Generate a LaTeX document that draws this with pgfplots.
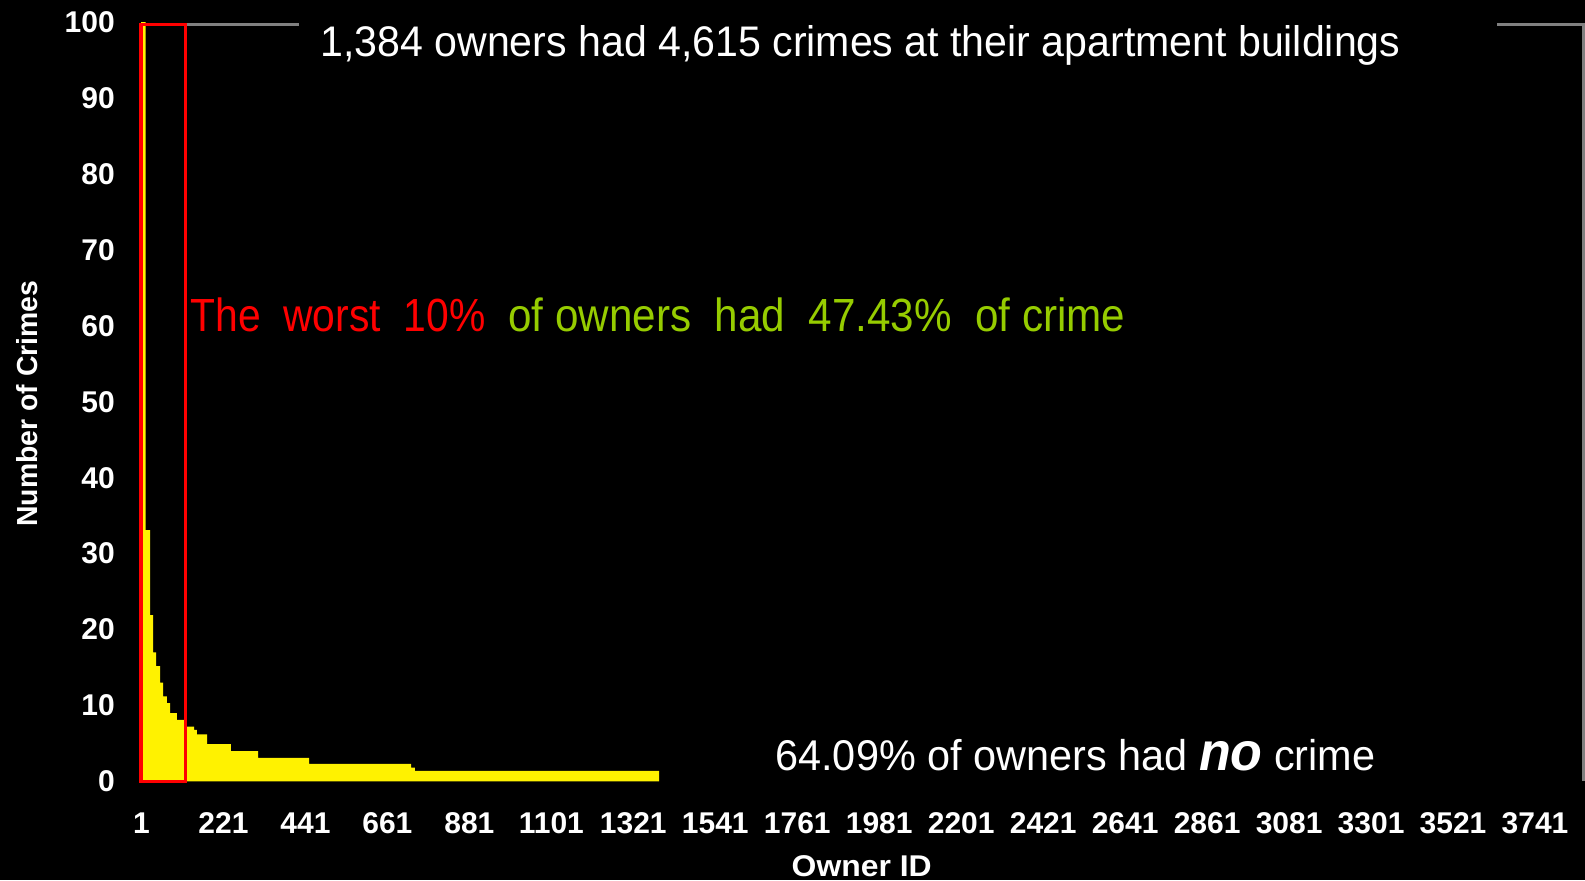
\documentclass[border=0pt]{standalone}
\usepackage{pgfplots}
\pgfplotsset{compat=1.18}
\usepackage{fontspec}
\setmainfont{Liberation Sans}
\usepackage{graphicx}
\definecolor{annogreen}{RGB}{150,204,0}
\definecolor{framegray}{RGB}{128,128,128}
\begin{document}
\begin{tikzpicture}
\useasboundingbox (0,0) rectangle (792.5pt,440pt);
\clip (0,0) rectangle (792.5pt,440pt);
\fill[black] (0,0) rectangle (792.5pt,440pt);
\begin{axis}[
  at={(70.55pt,49.3pt)}, anchor=south west,
  width=721pt, height=379.6pt, scale only axis,
  xmin=0, xmax=3870, ymin=0, ymax=100,
  clip=false,
  axis line style={draw=none},
  major tick length=0pt,
  tick style={draw=none},
  xtick={1,221,441,661,881,1101,1321,1541,1761,1981,2201,2421,2641,2861,3081,3301,3521,3741},
  ytick={0,10,20,30,40,50,60,70,80,90,100},
  scaled ticks=false,
  /pgf/number format/1000 sep={},
  /pgf/number format/assume math mode=true,
  ticklabel style={font=\fontsize{15pt}{18pt}\selectfont\bfseries, text=white, inner sep=0pt},
  xticklabel style={anchor=north, yshift=-15.3pt},
  yticklabel style={anchor=east, xshift=-13pt},
]
\addplot[fill=yellow, draw=none, const plot] coordinates {
(0,100) (12,33.1) (24,21.9) (32,17.0) (40,15.2) (51,13.0) (59,11.2) (69.5,10.3)
(78,9.0) (96,8.1) (119,7.2) (142,6.8) (150,6.2) (177,4.9) (241,4.0) (314,3.1)
(451,2.3) (724.5,1.8) (735,1.4) (1390,1.4)} \closedcycle;
\draw[framegray, line width=1.5pt] (axis cs:119.2,99.7) -- (axis cs:423.8,99.7);
\draw[framegray, line width=1.5pt] (axis cs:3639,99.7) -- (axis cs:3870,99.7) -- (axis cs:3870,0);
\draw[red, line width=1.85pt] (axis cs:0,0) rectangle (axis cs:119.2,99.7);
\end{axis}
\node[anchor=base west, inner sep=0pt, text=white] at (160pt,411.65pt)
  {\resizebox{540pt}{\height}{\fontsize{21.4pt}{24pt}\selectfont 1,384 owners had 4,615 crimes at their apartment buildings}};
\node[anchor=base west, inner sep=0pt, text=red] at (95pt,274.15pt)
  {\resizebox{147.5pt}{\height}{\fontsize{23.25pt}{28pt}\selectfont The\ \ worst\ \ 10\%}};
\node[anchor=base west, inner sep=0pt, text=annogreen] at (254pt,274.15pt)
  {\resizebox{308.5pt}{\height}{\fontsize{23.25pt}{28pt}\selectfont of owners\ \ had\ \ 47.43\%\ \ of crime}};
\node[anchor=base west, inner sep=0pt, text=white] at (387.5pt,55pt)
  {\resizebox{300pt}{\height}{\fontsize{21.5pt}{26pt}\selectfont 64.09\% of owners had {\fontsize{27pt}{30pt}\selectfont\bfseries\itshape no} crime}};
\node[rotate=90, inner sep=0pt, text=white] at (13.5pt,238.25pt)
  {\resizebox{123pt}{\height}{\fontsize{14.5pt}{17pt}\selectfont\bfseries Number of Crimes}};
\node[anchor=north, inner sep=0pt, text=white] at (430.85pt,12.5pt)
  {\resizebox{70pt}{\height}{\fontsize{15pt}{18pt}\selectfont\bfseries Owner ID}};
\end{tikzpicture}
\end{document}
